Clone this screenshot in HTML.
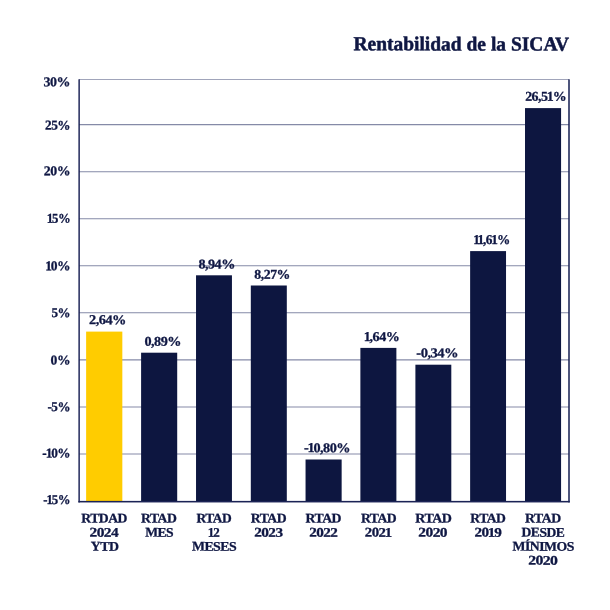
<!DOCTYPE html>
<html lang="es"><head><meta charset="utf-8"><title>Rentabilidad de la SICAV</title>
<style>html,body{margin:0;padding:0;background:#fff}body{width:610px;height:610px;overflow:hidden}svg{display:block}text{font-family:"Liberation Serif", serif;font-weight:bold;fill:#0f1743}</style></head><body>
<svg width="610" height="610" viewBox="0 0 610 610" role="img" aria-label="Rentabilidad de la SICAV">
<rect width="610" height="610" fill="#fff"/>
<g class="gridlines" stroke="#858aa7" stroke-width="1.05">
<line x1="79" x2="569" y1="79.5" y2="79.5" stroke="#a0a4ba" stroke-width="1"/>
<line x1="79" x2="569" y1="124.60" y2="124.60"/>
<line x1="79" x2="569" y1="171.65" y2="171.65"/>
<line x1="79" x2="569" y1="218.70" y2="218.70"/>
<line x1="79" x2="569" y1="265.75" y2="265.75"/>
<line x1="79" x2="569" y1="312.80" y2="312.80"/>
<line x1="79" x2="569" y1="359.85" y2="359.85"/>
<line x1="79" x2="569" y1="406.90" y2="406.90"/>
<line x1="79" x2="569" y1="453.95" y2="453.95"/>
</g>
<g class="bars">
<rect x="86.12" y="331.60" width="36.21" height="169.40" fill="#ffcc00"/>
<rect x="141.10" y="352.70" width="36.10" height="148.30" fill="#0d1640"/>
<rect x="196.03" y="275.30" width="35.91" height="225.70" fill="#0d1640"/>
<rect x="250.81" y="285.50" width="36.00" height="215.50" fill="#0d1640"/>
<rect x="305.55" y="459.50" width="36.10" height="41.50" fill="#0d1640"/>
<rect x="360.38" y="347.90" width="36.00" height="153.10" fill="#0d1640"/>
<rect x="415.40" y="364.70" width="35.90" height="136.30" fill="#0d1640"/>
<rect x="470.13" y="251.10" width="35.90" height="249.90" fill="#0d1640"/>
<rect x="525.01" y="108.10" width="36.06" height="392.90" fill="#0d1640"/>
</g>
<g class="axes" fill="#1b2356">
<rect x="78.4" y="79.3" width="1.45" height="423.15"/>
<rect x="568.23" y="79.3" width="1.54" height="423.15"/>
<rect x="78.4" y="500.9" width="491.37" height="1.55"/>
</g>
<g transform="matrix(1 0.002 0 1 0 0)" text-rendering="geometricPrecision" stroke="#0f1743" stroke-width="0.28" stroke-linejoin="round">
<g class="chart-title">
<text x="353.43" y="49.53" stroke-width="0.5" font-size="20.0" textLength="215.59" lengthAdjust="spacingAndGlyphs">Rentabilidad de la SICAV</text>
</g>
<g class="y-axis-labels">
<text x="43.64" y="86.24" letter-spacing="-0.5" font-size="13.5" textLength="26.37" lengthAdjust="spacingAndGlyphs">30%</text>
<text x="45.03" y="129.53" letter-spacing="-0.5" font-size="13.5" textLength="25.07" lengthAdjust="spacingAndGlyphs">25%</text>
<text x="43.86" y="175.24" letter-spacing="-0.5" font-size="13.5" textLength="26.17" lengthAdjust="spacingAndGlyphs">20%</text>
<text x="46.68" y="222.63" dx="0 -0.61 0" letter-spacing="-0.5" font-size="13.5" textLength="23.47" lengthAdjust="spacingAndGlyphs">15%</text>
<text x="45.17" y="270.23" dx="0 -0.61 0" letter-spacing="-0.5" font-size="13.5" textLength="24.98" lengthAdjust="spacingAndGlyphs">10%</text>
<text x="51.55" y="317.03" letter-spacing="-0.5" font-size="13.5" textLength="18.60" lengthAdjust="spacingAndGlyphs">5%</text>
<text x="50.60" y="364.33" letter-spacing="-0.5" font-size="13.5" textLength="19.43" lengthAdjust="spacingAndGlyphs">0%</text>
<text x="47.51" y="411.03" letter-spacing="-0.5" font-size="13.5" textLength="22.51" lengthAdjust="spacingAndGlyphs">-5%</text>
<text x="42.30" y="457.34" dx="0 -0.61 -0.61 0" letter-spacing="-0.5" font-size="13.5" textLength="27.90" lengthAdjust="spacingAndGlyphs">-10%</text>
<text x="43.30" y="503.94" dx="0 -0.61 -0.61 0" letter-spacing="-0.5" font-size="13.5" textLength="26.73" lengthAdjust="spacingAndGlyphs">-15%</text>
</g>
<g class="value-labels">
<text x="89.04" y="323.93" letter-spacing="-0.5" font-size="13.5" textLength="36.93" lengthAdjust="spacingAndGlyphs">2,64%</text>
<text x="144.47" y="345.52" letter-spacing="-0.5" font-size="13.5" textLength="36.45" lengthAdjust="spacingAndGlyphs">0,89%</text>
<text x="198.40" y="268.02" letter-spacing="-0.5" font-size="13.5" textLength="36.48" lengthAdjust="spacingAndGlyphs">8,94%</text>
<text x="254.39" y="278.21" letter-spacing="-0.5" font-size="13.5" textLength="35.58" lengthAdjust="spacingAndGlyphs">8,27%</text>
<text x="303.91" y="451.50" dx="0 -0.61 -0.61 0 0 0 0" letter-spacing="-0.5" font-size="13.5" textLength="46.13" lengthAdjust="spacingAndGlyphs">-10,80%</text>
<text x="363.74" y="340.19" dx="0 -0.61 0 0 0" letter-spacing="-0.5" font-size="13.5" textLength="35.51" lengthAdjust="spacingAndGlyphs">1,64%</text>
<text x="416.33" y="356.38" letter-spacing="-0.5" font-size="13.5" textLength="41.67" lengthAdjust="spacingAndGlyphs">-0,34%</text>
<text x="473.15" y="243.07" dx="0 -1.21 -0.61 0 -0.61 -0.61" letter-spacing="-0.5" font-size="13.5" textLength="36.60" lengthAdjust="spacingAndGlyphs">11,61%</text>
<text x="525.17" y="99.76" dx="0 0 0 0 -0.61 -0.61" letter-spacing="-0.5" font-size="13.5" textLength="40.89" lengthAdjust="spacingAndGlyphs">26,51%</text>
</g>
<g class="category-labels">
<text x="81.30" y="522.34" letter-spacing="-0.5" font-size="13.2" textLength="45.67" lengthAdjust="spacingAndGlyphs">RTDAD</text>
<text x="89.56" y="536.44" letter-spacing="-0.5" font-size="13.2" textLength="28.51" lengthAdjust="spacingAndGlyphs">2024</text>
<text x="90.86" y="550.44" letter-spacing="-0.5" font-size="13.2" textLength="27.62" lengthAdjust="spacingAndGlyphs">YTD</text>
<text x="141.03" y="522.23" letter-spacing="-0.5" font-size="13.2" textLength="35.25" lengthAdjust="spacingAndGlyphs">RTAD</text>
<text x="145.16" y="536.33" letter-spacing="-0.5" font-size="13.2" textLength="27.94" lengthAdjust="spacingAndGlyphs">MES</text>
<text x="196.60" y="522.12" letter-spacing="-0.5" font-size="13.2" textLength="34.70" lengthAdjust="spacingAndGlyphs">RTAD</text>
<text x="207.76" y="536.22" dx="0 -0.59" letter-spacing="-0.5" font-size="13.2" textLength="11.46" lengthAdjust="spacingAndGlyphs">12</text>
<text x="191.91" y="550.22" letter-spacing="-0.5" font-size="13.2" textLength="44.19" lengthAdjust="spacingAndGlyphs">MESES</text>
<text x="250.83" y="522.01" letter-spacing="-0.5" font-size="13.2" textLength="35.31" lengthAdjust="spacingAndGlyphs">RTAD</text>
<text x="254.24" y="536.11" letter-spacing="-0.5" font-size="13.2" textLength="28.26" lengthAdjust="spacingAndGlyphs">2023</text>
<text x="305.59" y="521.90" letter-spacing="-0.5" font-size="13.2" textLength="35.45" lengthAdjust="spacingAndGlyphs">RTAD</text>
<text x="309.16" y="536.00" letter-spacing="-0.5" font-size="13.2" textLength="28.10" lengthAdjust="spacingAndGlyphs">2022</text>
<text x="360.95" y="521.79" letter-spacing="-0.5" font-size="13.2" textLength="35.27" lengthAdjust="spacingAndGlyphs">RTAD</text>
<text x="364.89" y="535.89" dx="0 0 0 -0.59" letter-spacing="-0.5" font-size="13.2" textLength="26.68" lengthAdjust="spacingAndGlyphs">2021</text>
<text x="415.38" y="521.68" letter-spacing="-0.5" font-size="13.2" textLength="36.10" lengthAdjust="spacingAndGlyphs">RTAD</text>
<text x="418.32" y="535.78" letter-spacing="-0.5" font-size="13.2" textLength="28.66" lengthAdjust="spacingAndGlyphs">2020</text>
<text x="470.35" y="521.57" letter-spacing="-0.5" font-size="13.2" textLength="35.07" lengthAdjust="spacingAndGlyphs">RTAD</text>
<text x="474.47" y="535.67" dx="0 0 -0.59 -0.59" letter-spacing="-0.5" font-size="13.2" textLength="26.70" lengthAdjust="spacingAndGlyphs">2019</text>
<text x="525.10" y="521.46" letter-spacing="-0.5" font-size="13.2" textLength="35.49" lengthAdjust="spacingAndGlyphs">RTAD</text>
<text x="521.59" y="535.56" letter-spacing="-0.5" font-size="13.2" textLength="42.73" lengthAdjust="spacingAndGlyphs">DESDE</text>
<text x="512.62" y="549.56" letter-spacing="-0.5" font-size="13.2" textLength="61.17" lengthAdjust="spacingAndGlyphs">MÍNIMOS</text>
<text x="528.26" y="563.56" letter-spacing="-0.5" font-size="13.2" textLength="29.12" lengthAdjust="spacingAndGlyphs">2020</text>
</g>
</g>
</svg></body></html>
